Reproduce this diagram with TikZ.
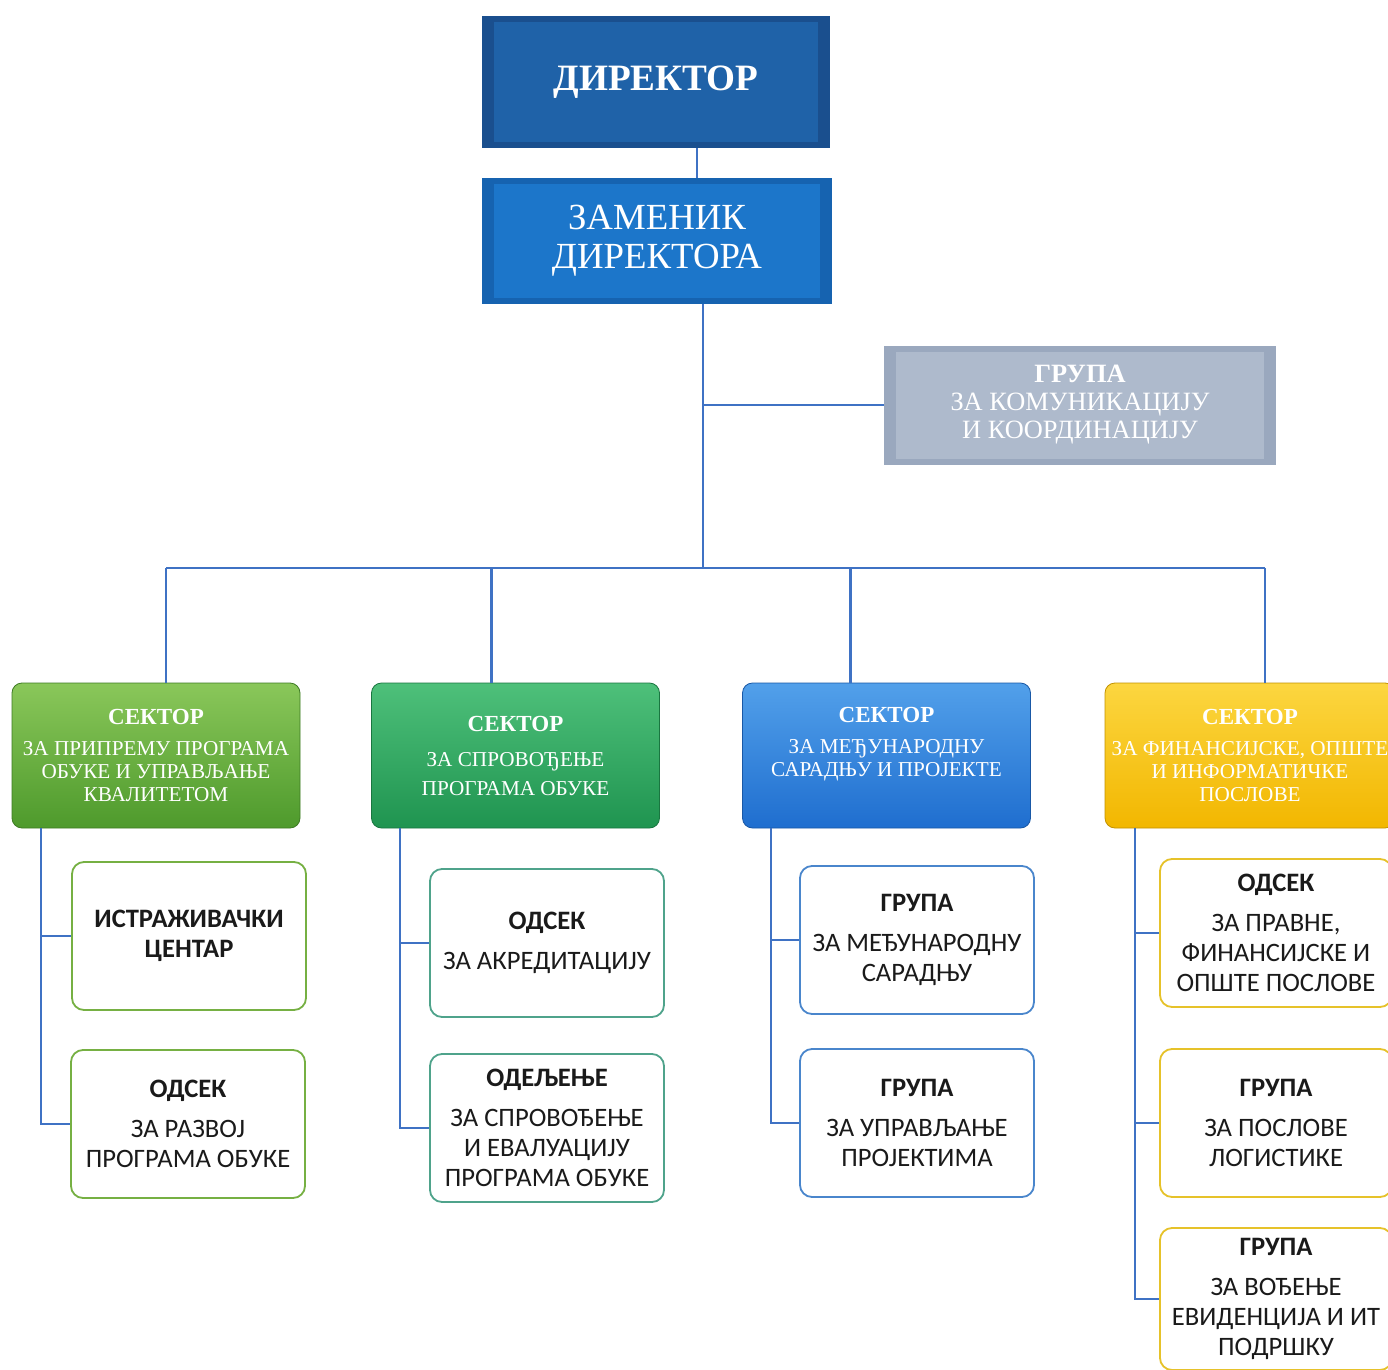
\documentclass[tikz,border=0pt]{standalone}
\usepackage{fontspec}
\setmainfont{Liberation Serif}
\newfontfamily\subfont{Carlito}
\usetikzlibrary{calc}
\definecolor{conn}{HTML}{3F72C4}
\definecolor{dirout}{HTML}{1A4F8E}
\definecolor{dirin}{HTML}{1F62A8}
\definecolor{zamout}{HTML}{1663B0}
\definecolor{zamin}{HTML}{1C76CA}
\definecolor{komout}{HTML}{9AA8BE}
\definecolor{komin}{HTML}{AEBACC}
\definecolor{gAt}{HTML}{8AC75A}\definecolor{gAb}{HTML}{4E9A2C}
\definecolor{gBt}{HTML}{4EC07A}\definecolor{gBb}{HTML}{1F9450}
\definecolor{gCt}{HTML}{52A0EA}\definecolor{gCb}{HTML}{1F6ECF}
\definecolor{gDt}{HTML}{FCD640}\definecolor{gDb}{HTML}{F2B700}
\definecolor{bA}{HTML}{76B043}
\definecolor{bB}{HTML}{4FA38B}
\definecolor{bC}{HTML}{4A86CC}
\definecolor{bD}{HTML}{E6C22A}
\definecolor{txt}{HTML}{1A1A1A}
\begin{document}
\begin{tikzpicture}[x=0.5pt,y=-0.5pt,
  conline/.style={draw=conn,line width=1.1pt},
  bevel/.style 2 args={draw=none,fill=#1,inner sep=0pt,align=center,text=white,
    path picture={\fill[#2]([shift={(6pt,3pt)}]path picture bounding box.south west) rectangle ([shift={(-6pt,-3pt)}]path picture bounding box.north east);}},
  sector/.style 2 args={rounded corners=5pt,top color=#1,bottom color=#2,draw=#2!80!black,line width=0.4pt,
    inner sep=0pt,align=center,text=white,minimum width=144pt,minimum height=72.5pt,
    font=\fontsize{10.6}{11.5}\selectfont},
  subbox/.style={rounded corners=6pt,draw=#1,line width=0.9pt,fill=white,inner sep=0pt,align=center,
    text=txt,minimum width=117pt,minimum height=74pt,font=\subfont\fontsize{13.3}{15}\selectfont},
  stitle/.style={font=\bfseries\fontsize{11.5}{12}\selectfont},
]
\clip (0,0) rectangle (1388,1370);
\fill[white] (0,0) rectangle (1388,1370);

% top boxes
\node[bevel={dirout}{dirin},minimum width=174pt,minimum height=66pt,
  font=\bfseries\fontsize{18.6}{20}\selectfont] (dir) at (656,82) {ДИРЕКТОР};
\node[bevel={zamout}{zamin},minimum width=175pt,minimum height=63pt,
  font=\fontsize{18.4}{19.5}\selectfont] (zam) at (657,241) {ЗАМЕНИК\\ДИРЕКТОРА};
\node[bevel={komout}{komin},minimum width=196pt,minimum height=59.5pt,
  font=\fontsize{13.2}{14}\selectfont] (kom) at (1080,405) {\textbf{ГРУПА}\\ЗА КОМУНИКАЦИЈУ\\И КООРДИНАЦИЈУ};

% sectors
\node[sector={gAt}{gAb}] (s1) at (156,755.5) {{\bfseries\fontsize{11.5}{12}\selectfont СЕКТОР}\\[4pt]ЗА ПРИПРЕМУ ПРОГРАМА\\ОБУКЕ И УПРАВЉАЊЕ\\КВАЛИТЕТОМ};
\node[sector={gBt}{gBb}] (s2) at (515.5,755.5) {{\bfseries\fontsize{11.5}{12}\selectfont СЕКТОР}\\[6pt]ЗА СПРОВОЂЕЊЕ\\[3pt]ПРОГРАМА ОБУКЕ};
\node[sector={gCt}{gCb}] (s3) at (886.5,755.5) {{\bfseries\fontsize{11.5}{12}\selectfont СЕКТОР}\\[4pt]ЗА МЕЂУНАРОДНУ\\САРАДЊУ И ПРОЈЕКТЕ\\[2pt]\mbox{}};
\node[sector={gDt}{gDb},minimum width=145pt] (s4) at (1250,755.5) {{\bfseries\fontsize{11.5}{12}\selectfont СЕКТОР}\\[4pt]ЗА ФИНАНСИЈСКЕ, ОПШТЕ\\И ИНФОРМАТИЧКЕ\\ПОСЛОВЕ};

% sub boxes
\node[subbox=bA] (a1) at (189,936) {\textbf{ИСТРАЖИВАЧКИ}\\\textbf{ЦЕНТАР}};
\node[subbox=bA] (a2) at (188,1124) {\textbf{ОДСЕК}\\[5pt]ЗА РАЗВОЈ\\ПРОГРАМА ОБУКЕ};
\node[subbox=bB] (b1) at (547,943) {\textbf{ОДСЕК}\\[5pt]ЗА АКРЕДИТАЦИЈУ};
\node[subbox=bB] (b2) at (547,1128) {\textbf{ОДЕЉЕЊЕ}\\[5pt]ЗА СПРОВОЂЕЊЕ\\И ЕВАЛУАЦИЈУ\\ПРОГРАМА ОБУКЕ};
\node[subbox=bC] (c1) at (917,940) {\textbf{ГРУПА}\\[5pt]ЗА МЕЂУНАРОДНУ\\САРАДЊУ};
\node[subbox=bC] (c2) at (917,1123) {\textbf{ГРУПА}\\[5pt]ЗА УПРАВЉАЊЕ\\ПРОЈЕКТИМА};
\node[subbox=bD,minimum width=116pt] (e1) at (1276,933) {\textbf{ОДСЕК}\\[5pt]ЗА ПРАВНЕ,\\ФИНАНСИЈСКЕ И\\ОПШТЕ ПОСЛОВЕ};
\node[subbox=bD,minimum width=116pt] (e2) at (1276,1123) {\textbf{ГРУПА}\\[5pt]ЗА ПОСЛОВЕ\\ЛОГИСТИКЕ};
\node[subbox=bD,minimum width=116pt,minimum height=71pt] (e3) at (1276,1299) {\textbf{ГРУПА}\\[5pt]ЗА ВОЂЕЊЕ\\ЕВИДЕНЦИЈА И ИТ\\ПОДРШКУ};

% connectors
\coordinate (bus) at (0,568);
\coordinate (t0) at ($(zam.south)+(46,0)$);
\coordinate (dz) at ($(dir.south)+(41,0)$);
\draw[conline] (dz) -- (dz |- zam.north);
\draw[conline] (t0) -- (t0 |- bus);
\draw[conline] (t0 |- kom.west) -- (kom.west);
\coordinate (d1) at ($(s1.north)+(10,0)$);
\coordinate (d2) at ($(s2.north)+(-24,0)$);
\coordinate (d3) at ($(s3.north)+(-36,0)$);
\coordinate (d4) at ($(s4.north)+(15,0)$);
\draw[conline] (d1 |- bus) -- (d4 |- bus);
\foreach \d in {d1,d2,d3,d4} \draw[conline] (\d |- bus) -- (\d);
\coordinate (v1) at ($(s1.south west)+(29,0)$);
\coordinate (v2) at ($(s2.south west)+(29,0)$);
\coordinate (v3) at ($(s3.south west)+(29,0)$);
\coordinate (v4) at ($(s4.south west)+(30,0)$);
\draw[conline] (v1) |- (a2.west);
\draw[conline] (v1 |- a1.west) -- (a1.west);
\draw[conline] (v2) |- (b2.west);
\draw[conline] (v2 |- b1.west) -- (b1.west);
\draw[conline] (v3) |- (c2.west);
\draw[conline] (v3 |- c1.west) -- (c1.west);
\draw[conline] (v4) |- (e3.west);
\draw[conline] (v4 |- e1.west) -- (e1.west);
\draw[conline] (v4 |- e2.west) -- (e2.west);
\end{tikzpicture}
\end{document}
